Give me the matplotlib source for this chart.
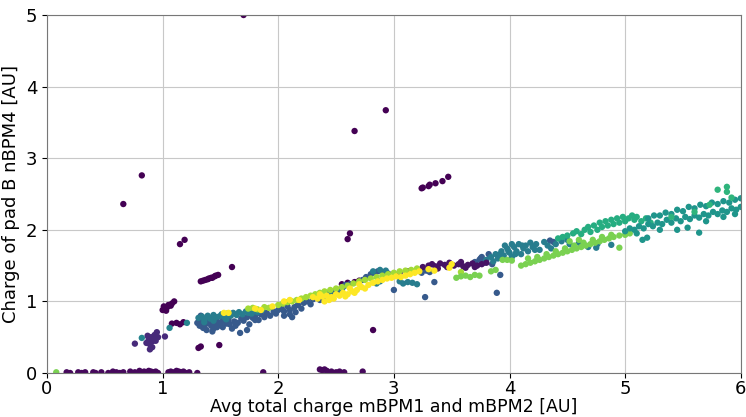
import numpy as np
import matplotlib
matplotlib.use("Agg")
import matplotlib.pyplot as plt

# Каждая группа точек: (x, y) и значение цвета для viridis (0..1)

# фиолетовые выбросы
purple_out = [(1.70, 5.00), (0.82, 2.76), (0.66, 2.36), (1.15, 1.80), (1.19, 1.86),
              (2.66, 3.38), (2.93, 3.67), (3.24, 2.58), (3.25, 2.59), (3.30, 2.61),
              (3.31, 2.63), (3.36, 2.65), (3.42, 2.68), (3.47, 2.74), (2.60, 1.87),
              (2.62, 1.95), (1.60, 1.48),
              (1.33, 1.28), (1.35, 1.29), (1.37, 1.30), (1.39, 1.31), (1.40, 1.32),
              (1.42, 1.33), (1.43, 1.33), (1.45, 1.35), (1.46, 1.36), (1.48, 1.37),
              (1.00, 0.88), (1.01, 0.93), (1.02, 0.90), (1.04, 0.92), (1.05, 0.95),
              (1.07, 0.94), (1.08, 0.97), (1.10, 1.00), (1.03, 0.87),
              (1.08, 0.69), (1.12, 0.70), (1.15, 0.68), (1.18, 0.71),
              (2.82, 0.60), (1.31, 0.35), (1.33, 0.37), (1.49, 0.39),
              (2.55, 1.24), (2.60, 1.26), (2.66, 1.27), (2.70, 1.29)]
purple_out_c = 0.0

# точки около нуля
zero_pts = [(0.17, 0.01), (0.20, 0.00), (0.27, 0.01), (0.30, 0.00), (0.33, 0.01),
            (0.40, 0.01), (0.42, 0.00), (0.47, 0.01), (0.53, 0.00), (0.57, 0.02),
            (0.60, 0.01), (0.63, 0.00), (0.66, 0.01), (0.72, 0.02), (0.76, 0.01),
            (0.80, 0.03), (0.84, 0.02), (0.86, 0.01), (0.88, 0.03), (0.90, 0.02),
            (0.92, 0.01), (0.94, 0.02), (0.96, 0.00), (1.05, 0.01), (1.07, 0.02),
            (1.10, 0.01), (1.12, 0.03), (1.14, 0.02), (1.16, 0.01), (1.18, 0.02),
            (1.20, 0.00), (1.23, 0.01), (1.30, 0.00), (1.87, 0.01), (2.36, 0.05),
            (2.38, 0.04), (2.40, 0.05), (2.42, 0.03), (2.46, 0.02), (2.50, 0.01),
            (2.53, 0.02), (2.57, 0.01), (2.73, 0.02)]
zero_c = 0.02

# кластер около x~0.9
low_pts = [(0.87, 0.52), (0.88, 0.47), (0.90, 0.50), (0.91, 0.44), (0.92, 0.48),
           (0.93, 0.53), (0.89, 0.40), (0.91, 0.36), (0.94, 0.45), (0.96, 0.50),
           (0.95, 0.57), (0.89, 0.33), (1.02, 0.51), (0.76, 0.41), (0.86, 0.42)]
low_c = 0.12

teal_low = [(0.82, 0.49), (1.06, 0.63), (1.21, 0.70)]
teal_low_c = 0.45

green_zero = [(0.08, 0.01)]
green_zero_c = 0.8

# основная полоса: тёмно-синие
blue_pts = [(1.30, 0.70), (1.32, 0.66), (1.34, 0.72), (1.35, 0.63), (1.37, 0.68),
            (1.38, 0.60), (1.40, 0.70), (1.42, 0.66), (1.43, 0.58), (1.45, 0.68),
            (1.47, 0.64), (1.48, 0.71), (1.50, 0.67), (1.52, 0.73), (1.55, 0.69),
            (1.57, 0.74), (1.60, 0.62), (1.62, 0.72), (1.65, 0.70), (1.68, 0.76),
            (1.70, 0.73), (1.73, 0.78), (1.75, 0.68), (1.78, 0.77), (1.80, 0.80),
            (1.83, 0.74), (1.85, 0.82), (1.88, 0.78), (1.90, 0.84), (1.93, 0.80),
            (1.96, 0.86), (1.98, 0.83), (1.67, 0.56), (1.73, 0.60), (1.80, 0.74),
            (2.12, 0.78), (1.33, 0.80), (1.40, 0.77), (1.46, 0.76),
            (1.38, 0.74), (1.44, 0.62), (1.52, 0.64), (1.58, 0.68), (1.63, 0.66),
            (2.00, 0.88), (2.03, 0.90), (2.05, 0.86), (2.08, 0.93), (2.10, 0.88),
            (2.14, 0.92), (2.17, 0.95), (2.20, 0.90), (2.22, 0.98), (2.25, 1.00),
            (2.28, 0.96), (2.30, 1.03), (2.33, 1.06), (2.36, 1.02), (2.40, 1.08),
            (2.44, 1.10), (2.48, 1.13), (2.52, 1.16), (2.56, 1.20), (2.58, 1.23),
            (2.62, 1.24), (2.70, 1.27), (2.73, 1.30), (2.76, 1.34),
            (2.80, 1.38), (2.83, 1.40), (2.86, 1.42), (2.90, 1.41), (2.95, 1.39),
            (3.00, 1.16), (3.27, 1.06), (3.24, 1.40), (3.28, 1.43), (3.31, 1.41),
            (3.35, 1.27), (2.05, 0.80), (2.15, 0.85), (2.10, 0.82),
            (3.70, 1.55), (3.74, 1.58), (3.76, 1.62), (3.78, 1.54), (3.82, 1.66),
            (3.85, 1.52), (3.92, 1.37), (3.89, 1.12), (3.75, 1.60), (4.35, 1.85),
            (4.38, 1.83)]
blue_c = 0.28

teal_pts = [(1.31, 0.77), (1.34, 0.79), (1.36, 0.75), (1.39, 0.80), (1.41, 0.76),
            (1.44, 0.81), (1.46, 0.78), (1.49, 0.79), (1.51, 0.82), (1.54, 0.77),
            (1.56, 0.83), (1.59, 0.80), (1.61, 0.84), (1.64, 0.81), (1.66, 0.85),
            (1.69, 0.82), (1.72, 0.86), (1.74, 0.84), (1.77, 0.83), (1.79, 0.87),
            (1.82, 0.85), (1.86, 0.88), (1.36, 0.71), (1.44, 0.73), (1.55, 0.75),
            (2.35, 1.08), (2.45, 1.14), (2.55, 1.15), (2.85, 1.25), (2.88, 1.28),
            (3.05, 1.28), (3.08, 1.25), (3.12, 1.27), (3.16, 1.26), (3.20, 1.24),
            (2.82, 1.42), (2.88, 1.44), (2.93, 1.43),
            (3.80, 1.58), (3.84, 1.62), (3.86, 1.56), (3.88, 1.66), (3.90, 1.60),
            (3.93, 1.70), (3.95, 1.64), (3.98, 1.74), (4.00, 1.68), (4.02, 1.62),
            (4.04, 1.76), (4.06, 1.70), (4.08, 1.80), (4.10, 1.66), (4.12, 1.74),
            (4.14, 1.78), (4.16, 1.70), (4.18, 1.82), (4.20, 1.76), (4.23, 1.80),
            (4.26, 1.72), (4.30, 1.83), (4.33, 1.78), (4.36, 1.74), (4.40, 1.80),
            (4.45, 1.84), (4.50, 1.86), (4.02, 1.80), (3.96, 1.78),
            (3.92, 1.66), (3.99, 1.70), (4.05, 1.66), (4.11, 1.78), (4.22, 1.72),
            (4.52, 1.80), (4.60, 1.82), (4.68, 1.76), (4.76, 1.80), (4.88, 1.79),
            (4.75, 1.75)]
teal_c = 0.42

purple_band = [(3.05, 1.40), (3.12, 1.42), (3.20, 1.44), (3.25, 1.48), (3.30, 1.50),
               (3.33, 1.52), (3.36, 1.49), (3.40, 1.53), (3.44, 1.51), (3.48, 1.54),
               (3.52, 1.50), (3.56, 1.52), (3.60, 1.49), (3.64, 1.51), (3.68, 1.53),
               (3.72, 1.50), (3.76, 1.52), (3.80, 1.54), (3.58, 1.55), (3.46, 1.48),
               (3.38, 1.46), (3.62, 1.47), (3.70, 1.48)]
purple_band_c = 0.05

lime_pts = [(1.74, 0.90), (1.78, 0.91), (1.82, 0.89), (1.88, 0.92), (1.92, 0.91),
            (2.00, 0.95), (2.04, 0.97), (2.08, 0.99), (2.12, 1.00), (2.16, 1.02),
            (2.20, 1.04), (2.24, 1.06), (2.28, 1.08), (2.32, 1.10), (2.36, 1.12),
            (2.40, 1.14), (2.45, 1.16), (2.50, 1.18), (2.55, 1.20), (2.60, 1.22),
            (2.65, 1.25), (2.70, 1.28), (2.75, 1.30), (2.80, 1.32), (2.85, 1.34),
            (2.90, 1.36), (2.95, 1.38), (3.00, 1.40), (3.05, 1.42), (3.10, 1.43),
            (3.15, 1.44), (3.20, 1.46), (3.58, 1.41)]
lime_c = 0.86

yellow_pts = [(1.53, 0.84), (1.57, 0.84), (1.80, 0.90), (1.85, 0.88), (1.95, 0.93),
              (2.05, 1.00), (2.10, 1.02), (2.18, 1.02), (2.30, 1.06), (2.34, 1.04),
              (2.38, 1.07), (2.42, 1.08), (2.46, 1.06), (2.50, 1.10), (2.53, 1.08),
              (2.56, 1.12), (2.60, 1.10), (2.64, 1.14), (2.68, 1.16), (2.72, 1.20),
              (2.75, 1.18), (2.78, 1.23), (2.82, 1.26), (2.86, 1.28), (2.90, 1.30),
              (2.94, 1.32), (2.98, 1.33), (3.02, 1.35), (3.06, 1.34), (3.10, 1.36),
              (3.14, 1.38), (3.18, 1.40), (3.22, 1.42), (3.30, 1.45), (3.35, 1.43),
              (3.48, 1.47), (3.50, 1.52), (2.70, 1.24), (2.62, 1.18), (2.44, 1.02),
              (2.40, 1.00), (2.48, 1.04), (2.58, 1.07), (2.66, 1.12), (2.36, 1.10)]
yellow_c = 1.0

green_low = [(3.54, 1.33), (3.58, 1.35), (3.62, 1.36), (3.66, 1.34), (3.70, 1.37),
             (3.74, 1.36), (3.84, 1.42), (3.88, 1.44), (3.94, 1.58), (3.98, 1.58),
             (4.02, 1.57), (4.10, 1.50), (4.14, 1.52), (4.18, 1.54), (4.22, 1.56),
             (4.26, 1.58), (4.30, 1.60), (4.34, 1.62), (4.38, 1.64), (4.42, 1.66),
             (4.46, 1.68), (4.50, 1.70), (4.54, 1.72), (4.58, 1.74), (4.62, 1.76),
             (4.66, 1.78), (4.70, 1.80), (4.74, 1.82), (4.78, 1.84), (4.82, 1.86),
             (4.86, 1.88), (4.90, 1.90), (4.95, 1.92), (5.00, 1.93), (5.04, 1.95),
             (4.95, 1.75), (4.16, 1.60), (4.24, 1.62), (4.32, 1.66), (4.40, 1.70),
             (4.48, 1.74), (4.56, 1.78), (4.64, 1.82), (4.72, 1.86), (4.80, 1.90),
             (4.88, 1.93), (4.60, 1.86), (4.52, 1.84)]
green_low_c = 0.8

green_up = [(4.50, 1.92), (4.55, 1.95), (4.58, 1.98), (4.62, 1.94), (4.65, 2.00),
            (4.68, 2.04), (4.70, 1.97), (4.73, 2.06), (4.76, 2.00), (4.78, 2.10),
            (4.80, 2.04), (4.83, 2.12), (4.85, 2.06), (4.88, 2.14), (4.90, 2.08),
            (4.93, 2.16), (4.95, 2.10), (4.98, 2.18), (5.00, 2.12), (5.03, 2.16),
            (5.06, 2.20), (5.08, 2.14), (5.10, 2.18), (5.14, 2.12), (5.18, 2.16),
            (5.22, 2.10), (4.42, 1.88), (4.46, 1.90)]
green_up_c = 0.62

teal2_pts = [(5.00, 1.98), (5.04, 2.02), (5.08, 2.00), (5.12, 2.05), (5.16, 2.02),
             (5.20, 2.08), (5.24, 2.05), (5.28, 2.10), (5.32, 2.08), (5.36, 2.14),
             (5.40, 2.10), (5.44, 2.16), (5.48, 2.12), (5.52, 2.18), (5.56, 2.15),
             (5.60, 2.20), (5.64, 2.17), (5.68, 2.22), (5.72, 2.20), (5.76, 2.25),
             (5.80, 2.22), (5.84, 2.27), (5.88, 2.25), (5.92, 2.30), (5.96, 2.28),
             (6.00, 2.32), (5.30, 2.20), (5.35, 2.24), (5.40, 2.22), (5.45, 2.28),
             (5.50, 2.26), (5.55, 2.32), (5.60, 2.30), (5.65, 2.35), (5.70, 2.33),
             (5.75, 2.38), (5.80, 2.36), (5.85, 2.40), (5.90, 2.38), (5.95, 2.42),
             (6.00, 2.44), (5.20, 2.16), (5.25, 2.20), (5.15, 1.86), (5.19, 1.89),
             (5.45, 2.00), (5.54, 2.03), (5.64, 1.96), (5.10, 1.95), (5.30, 2.00),
             (5.70, 2.12), (5.85, 2.18), (5.95, 2.22)]
teal2_c = 0.52

green_top = [(5.80, 2.56), (5.88, 2.60), (5.88, 2.53), (5.73, 2.35), (5.60, 2.25),
             (5.40, 2.18), (5.92, 2.45)]
green_top_c = 0.65

groups = [(purple_out, purple_out_c), (zero_pts, zero_c), (low_pts, low_c),
          (teal_low, teal_low_c), (green_zero, green_zero_c),
          (blue_pts, blue_c), (teal_pts, teal_c), (purple_band, purple_band_c),
          (lime_pts, lime_c), (yellow_pts, yellow_c), (green_low, green_low_c),
          (green_up, green_up_c), (teal2_pts, teal2_c), (green_top, green_top_c)]

xs, ys, cs = [], [], []
for pts, cval in groups:
    for x, y in pts:
        xs.append(x)
        ys.append(y)
        cs.append(cval)

fig, ax = plt.subplots(figsize=(7.46, 4.17), dpi=100)
fig.subplots_adjust(left=0.063, right=0.993, top=0.964, bottom=0.1055)

ax.scatter(xs, ys, c=cs, cmap='viridis', vmin=0, vmax=1, s=21, linewidths=0)
ax.set_xlim(0, 6)
ax.set_ylim(0, 5)
ax.set_xlabel('Avg total charge mBPM1 and mBPM2 [AU]', fontsize=12.5, labelpad=0)
ax.set_ylabel('Charge of pad B nBPM4 [AU]', fontsize=13, labelpad=4)
ax.tick_params(labelsize=13)
ax.tick_params(axis='x', pad=1.5)
ax.grid(True, color='#c8c8c8')
ax.set_axisbelow(True)
for sp in ax.spines.values():
    sp.set_color('#777777')

plt.savefig('out.png')
